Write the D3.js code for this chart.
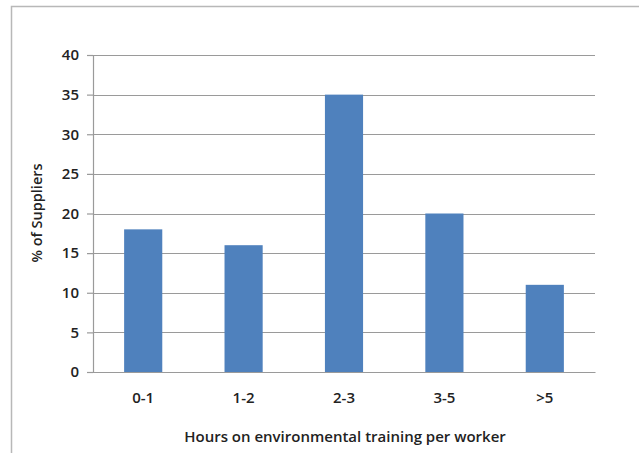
<!DOCTYPE html>
<html>
<head>
<meta charset="utf-8">
<script src="https://cdn.jsdelivr.net/npm/d3@7/dist/d3.min.js"></script>
<style>
  html, body { margin: 0; padding: 0; background: #fff; }
  svg { display: block; }
  text { font-family: "Open Sans", "Liberation Sans", sans-serif; fill: #222; }
</style>
</head>
<body>
<svg id="chart" width="639" height="453"></svg>
<script>
// Share of suppliers by hours of environmental training per worker
const categories = ["0-1", "1-2", "2-3", "3-5", ">5"];
const supplierShare = [18, 16, 35, 20, 11];
const yTicks = [0, 5, 10, 15, 20, 25, 30, 35, 40];

const svg = d3.select("#chart");
const W = 639, H = 453;
const margin = { left: 93, right: 44, top: 55, bottom: 81 };
const innerW = W - margin.left - margin.right;
const innerH = H - margin.top - margin.bottom;

// chart frame
svg.append("rect")
  .attr("x", 11.5).attr("y", 6.5)
  .attr("width", 660).attr("height", 470)
  .attr("fill", "#fff")
  .attr("stroke", "#b8b8b8")
  .attr("stroke-width", 1.5);

const g = svg.append("g").attr("transform", `translate(${margin.left},${margin.top})`);

const x = d3.scaleBand().domain(categories).range([0, innerW]).paddingInner(0.62).paddingOuter(0.31);
const y = d3.scaleLinear().domain([0, 40]).range([innerH, 0]);

// horizontal gridlines
g.append("g")
  .selectAll("line")
  .data(yTicks.filter(d => d > 0))
  .join("line")
  .attr("x1", 0).attr("x2", innerW)
  .attr("y1", d => Math.round(y(d)) + 0.5).attr("y2", d => Math.round(y(d)) + 0.5)
  .attr("stroke", "#9a9a9a").attr("stroke-width", 1.2);

// y axis
const yAxis = g.append("g")
  .call(d3.axisLeft(y).tickValues(yTicks).tickSize(6).tickPadding(8).tickFormat(d3.format("d")));
yAxis.select(".domain").attr("stroke", "#9a9a9a").attr("stroke-width", 1.2);
yAxis.selectAll(".tick line").attr("stroke", "#9a9a9a").attr("stroke-width", 1.2);
yAxis.selectAll(".tick text")
  .style("font-family", "'Open Sans', sans-serif")
  .style("font-size", "15px")
  .style("font-weight", "600")
  .attr("fill", "#222");

// bars
g.append("g")
  .selectAll("rect")
  .data(categories.map((c, i) => ({ c, v: supplierShare[i] })))
  .join("rect")
  .attr("x", d => x(d.c))
  .attr("y", d => y(d.v))
  .attr("width", x.bandwidth())
  .attr("height", d => y(0) - y(d.v))
  .attr("fill", "#4f81bd");

// x axis
const xAxis = g.append("g")
  .attr("transform", `translate(0,${innerH})`)
  .call(d3.axisBottom(x).tickSize(0).tickPadding(20));
xAxis.select(".domain").attr("stroke", "#9a9a9a").attr("stroke-width", 1.2);
xAxis.selectAll(".tick text")
  .style("font-family", "'Open Sans', sans-serif")
  .style("font-size", "15px")
  .style("font-weight", "600")
  .attr("fill", "#222");

// axis titles
svg.append("text")
  .attr("transform", "translate(42,213) rotate(-90)")
  .attr("text-anchor", "middle")
  .style("font-size", "14.5px")
  .style("font-weight", "600")
  .text("% of Suppliers");

svg.append("text")
  .attr("x", 345).attr("y", 442)
  .attr("text-anchor", "middle")
  .style("font-size", "15px")
  .style("font-weight", "600")
  .text("Hours on environmental training per worker");
</script>
</body>
</html>
